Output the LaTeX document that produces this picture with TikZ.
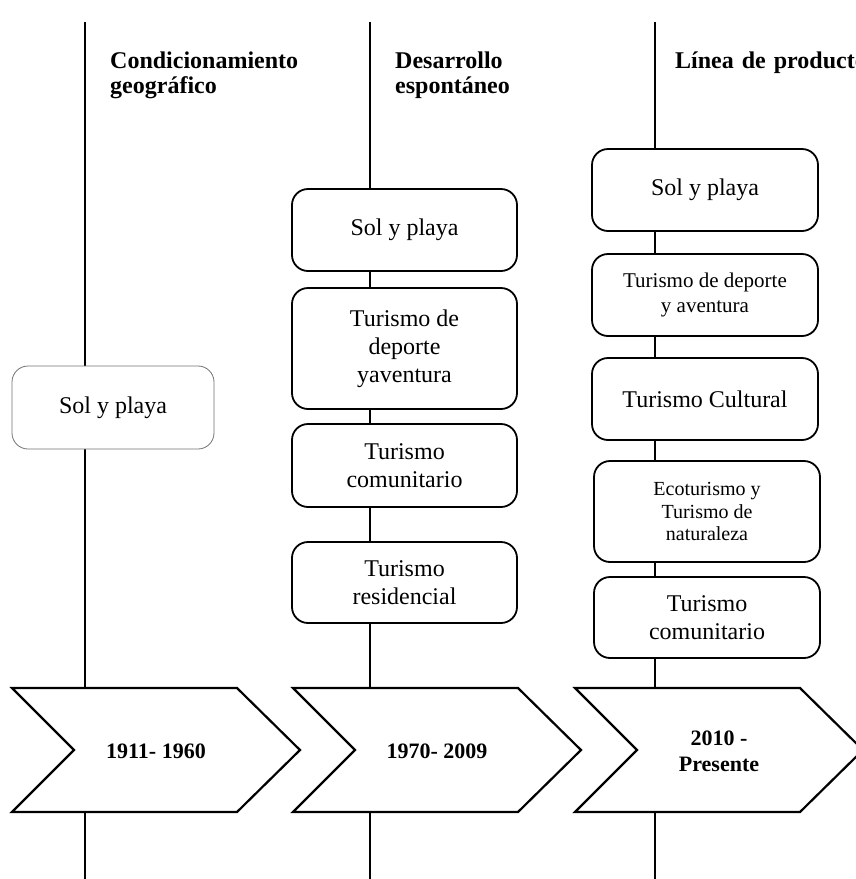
\documentclass[tikz,border=0pt]{standalone}
\usepackage{fontspec}
\setmainfont{Liberation Serif}
\usetikzlibrary{positioning}

\tikzset{
  producto/.style={rectangle, rounded corners=16pt, draw=black, fill=white,
    line width=1.8pt, align=center, inner sep=0pt,
    font=\fontsize{24}{28}\selectfont},
  etapa/.style={text width=260pt, align=left, inner sep=0pt, anchor=base west,
    font=\bfseries\fontsize{24}{25}\selectfont},
  periodo/.style={draw=black, fill=white, line width=2.2pt, line join=miter},
  fecha/.style={align=center, inner sep=0pt,
    font=\bfseries\fontsize{22}{26}\selectfont}
}

\begin{document}
\begin{tikzpicture}[x=1pt, y=-1pt]
  \useasboundingbox (0,0) rectangle (855,879);

  % ejes de tiempo
  \foreach \x [count=\i] in {85,370,655} {
    \coordinate (top\i) at (\x,22);
    \coordinate (bot\i) at (\x,879);
    \draw[line width=2.2pt] (top\i) -- (bot\i);
  }

  % etapas
  \node[etapa] (e1) at (110,68) {Condicionamiento\\geográfico};
  \node[etapa] (e2) at (395,68) {Desarrollo\\espontáneo};
  \node[etapa] (e3) at (675,68) {Línea de productos};

  % 1911-1960
  \node (a1) [producto, draw=black!55, line width=0.8pt, minimum width=202pt,
    minimum height=83pt] at (113,407.5) {Sol y playa};

  % 1970-2009
  \begin{scope}[every node/.style={producto, minimum width=225pt}]
    \node (b1) [minimum height=82pt] at (404.5,230) {Sol y playa};
    \node (b2) [minimum height=121pt] at (404.5,348.5) {Turismo de\\deporte\\yaventura};
    \node (b3) [minimum height=83pt] at (404.5,465.5) {Turismo\\comunitario};
    \node (b4) [minimum height=81pt] at (404.5,582.5) {Turismo\\residencial};
  \end{scope}

  % 2010 - Presente
  \begin{scope}[every node/.style={producto, minimum width=226pt}]
    \node (c1) [minimum height=82pt] at (705,190) {Sol y playa};
    \node (c2) [minimum height=82pt, font=\fontsize{21}{25}\selectfont] at (705,295)
      {Turismo de deporte\\y aventura};
    \node (c3) [minimum height=82pt] at (705,399) {Turismo Cultural};
    \node (c4) [minimum height=101pt, font=\fontsize{20}{22.5}\selectfont] at (707,511.5)
      {Ecoturismo y\\Turismo de\\naturaleza};
    \node (c5) [minimum height=81pt] at (707,617.5) {Turismo\\comunitario};
  \end{scope}

  % periodos
  \foreach \x/\lab [count=\i] in {12/{1911- 1960}, 293/{1970- 2009}, 575/{2010 -\\Presente}} {
    \draw[periodo] (\x,688) -- ++(225,0) -- ++(63,62) -- ++(-63,62)
      -- ++(-225,0) -- ++(62,-62) -- cycle;
    \node[fecha] (p\i) at (\x+144,751) {\lab};
  }
\end{tikzpicture}
\end{document}
